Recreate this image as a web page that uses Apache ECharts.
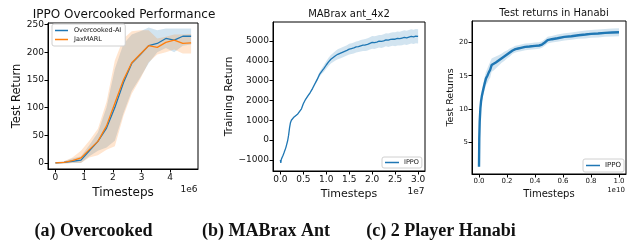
<!DOCTYPE html>
<html>
<head>
<meta charset="utf-8">
<script src="https://cdn.jsdelivr.net/npm/echarts@6/dist/echarts.min.js"></script>
<style>
  html, body { margin: 0; background: #fff; }
  #container { width: 636px; height: 242px; }
</style>
</head>
<body>
<div id="container"></div>
<script>
// ---- (a) Overcooked, x in 1e6 steps ----
var ocX = [0, 0.3, 0.59, 0.89, 1.18, 1.48, 1.78, 2.07, 2.37, 2.66, 2.96, 3.25, 3.55, 3.85, 4.14, 4.44, 4.73];
var ocAI = [0, 1, 3, 5, 22, 39, 63, 100, 145, 180, 196, 212, 216, 225, 222, 229, 229];
var ocAIHi = [1, 3, 8, 12, 32, 55, 100, 170, 215, 232, 238, 245, 240, 243, 243, 243, 243];
var ocAILo = [-1, -1, 0, 0, 12, 22, 28, 40, 90, 130, 155, 180, 200, 208, 200, 212, 214];
var ocJax = [0, 1, 4, 9, 24, 39, 67, 108, 150, 181, 197, 212, 209, 218, 222, 216, 217];
var ocJaxHi = [1, 3, 10, 22, 40, 62, 110, 185, 225, 238, 240, 240, 225, 228, 232, 232, 233];
var ocJaxLo = [-1, -1, 0, 0, 10, 14, 24, 30, 85, 125, 152, 182, 196, 200, 205, 198, 198];
var ocXTicks = [0, 1, 2, 3, 4];
var ocYTicks = [0, 50, 100, 150, 200, 250];

// ---- (b) MABrax ant_4x2, x in 1e7 steps ----
var antX = [0, 0.01, 0.02, 0.04, 0.06, 0.08, 0.1, 0.12, 0.14, 0.16, 0.18, 0.2, 0.22, 0.24, 0.27, 0.3, 0.34, 0.38, 0.42, 0.46,
  0.5, 0.55, 0.6, 0.65, 0.7, 0.75, 0.8, 0.85, 0.9, 0.95, 1.0, 1.05, 1.1, 1.15, 1.2, 1.25, 1.3, 1.35, 1.4, 1.45,
  1.5, 1.55, 1.6, 1.65, 1.7, 1.75, 1.8, 1.85, 1.9, 1.95, 2.0, 2.05, 2.1, 2.15, 2.2, 2.25, 2.3, 2.35, 2.4, 2.45,
  2.5, 2.55, 2.6, 2.65, 2.7, 2.75, 2.8, 2.85, 2.9, 2.95, 3.0];
var antY = [-1000, -1150, -980, -870, -760, -640, -560, -380, -200, -20, 250, 620, 880, 1000, 1100, 1170, 1240, 1320, 1450, 1580,
  1830, 2060, 2230, 2400, 2600, 2830, 3050, 3300, 3470, 3620, 3790, 3950, 4080, 4170, 4260, 4330, 4380, 4430, 4480, 4530,
  4590, 4620, 4650, 4700, 4720, 4760, 4790, 4800, 4830, 4880, 4930, 4920, 4950, 4990, 4980, 5010, 5060, 5040, 5080, 5100,
  5090, 5130, 5120, 5150, 5180, 5160, 5200, 5230, 5210, 5250, 5230];
var antHi = [-980, -1120, -950, -840, -730, -610, -530, -350, -170, 10, 280, 650, 910, 1030, 1130, 1200, 1270, 1350, 1480, 1610,
  1870, 2100, 2280, 2460, 2670, 2910, 3150, 3420, 3610, 3790, 3980, 4160, 4300, 4400, 4500, 4580, 4640, 4690, 4740, 4790,
  4860, 4890, 4930, 4980, 5000, 5050, 5080, 5100, 5140, 5190, 5250, 5240, 5270, 5310, 5310, 5340, 5390, 5380, 5420, 5440,
  5440, 5480, 5470, 5510, 5540, 5520, 5560, 5590, 5570, 5610, 5590];
var antLo = [-1020, -1180, -1010, -900, -790, -670, -590, -410, -230, -50, 220, 590, 850, 970, 1070, 1140, 1210, 1290, 1420, 1550,
  1790, 2020, 2180, 2340, 2530, 2750, 2950, 3180, 3330, 3450, 3600, 3740, 3860, 3940, 4020, 4080, 4120, 4170, 4220, 4270,
  4320, 4350, 4370, 4420, 4440, 4470, 4500, 4500, 4520, 4570, 4610, 4600, 4630, 4670, 4650, 4680, 4730, 4700, 4740, 4760,
  4740, 4780, 4770, 4790, 4820, 4800, 4840, 4870, 4850, 4890, 4870];
var antXTicks = [0, 0.5, 1, 1.5, 2, 2.5, 3];
var antYTicks = [-1000, 0, 1000, 2000, 3000, 4000, 5000];

// ---- (c) 2 Player Hanabi, x in 1e10 steps ----
var hanX = [0, 0.002, 0.005, 0.01, 0.015, 0.02, 0.03, 0.04, 0.05, 0.06, 0.07, 0.08, 0.09, 0.1, 0.12, 0.14, 0.16, 0.18, 0.2,
  0.22, 0.24, 0.26, 0.28, 0.3, 0.33, 0.36, 0.4, 0.43, 0.45, 0.47, 0.49, 0.52, 0.56, 0.61, 0.66, 0.71, 0.76, 0.8, 0.85, 0.9, 0.95, 1.0];
var hanY = [1.3, 5.6, 8.1, 10.1, 11.2, 11.9, 12.9, 13.8, 14.6, 15.0, 15.5, 15.9, 16.6, 16.7, 17.0, 17.3, 17.6, 17.9, 18.2,
  18.5, 18.8, 19.0, 19.1, 19.2, 19.35, 19.4, 19.5, 19.55, 19.7, 20.0, 20.35, 20.5, 20.65, 20.85, 20.95, 21.1, 21.2, 21.3, 21.35, 21.45, 21.5, 21.55];
var hanHi = [1.5, 6.2, 8.8, 10.8, 12.0, 12.7, 13.8, 14.8, 15.6, 16.1, 16.6, 17.1, 17.6, 17.7, 17.9, 18.1, 18.3, 18.6, 18.8,
  19.1, 19.3, 19.5, 19.6, 19.7, 19.85, 19.9, 20.0, 20.05, 20.2, 20.5, 20.85, 21.0, 21.2, 21.4, 21.5, 21.65, 21.8, 21.9, 21.95, 22.05, 22.1, 22.15];
var hanLo = [1.1, 5.0, 7.4, 9.4, 10.4, 11.1, 12.0, 12.8, 13.6, 13.9, 14.4, 14.7, 15.6, 15.7, 16.1, 16.5, 16.9, 17.2, 17.6,
  17.9, 18.3, 18.5, 18.6, 18.7, 18.85, 18.9, 19.0, 19.05, 19.2, 19.5, 19.85, 20.0, 20.1, 20.3, 20.4, 20.55, 20.6, 20.7, 20.75, 20.85, 20.9, 20.95];
var hanXTicks = [0, 0.2, 0.4, 0.6, 0.8, 1.0];
var hanYTicks = [5, 10, 15, 20];

var BLUE = '#1f77b4', ORANGE = '#ff7f0e';
var FONT = 'DejaVu Sans';

function zip(xs, ys) {
  var out = [];
  for (var i = 0; i < xs.length; i++) out.push([xs[i], ys[i]]);
  return out;
}

// shaded band between lo and hi, drawn through the axis scale
function band(xs, lo, hi, fill, idx) {
  return {
    type: 'custom', xAxisIndex: idx, yAxisIndex: idx, silent: true, z: 1,
    data: [[xs[0], lo[0]]],
    renderItem: function (params, api) {
      var pts = [], i;
      for (i = 0; i < xs.length; i++) pts.push(api.coord([xs[i], hi[i]]));
      for (i = xs.length - 1; i >= 0; i--) pts.push(api.coord([xs[i], lo[i]]));
      return { type: 'polygon', shape: { points: pts }, style: { fill: fill } };
    }
  };
}

function line(name, xs, ys, color, idx, width) {
  return {
    name: name, type: 'line', xAxisIndex: idx, yAxisIndex: idx, z: 3,
    data: zip(xs, ys), showSymbol: false, symbol: 'none',
    lineStyle: { color: color, width: width || 1.3 }, itemStyle: { color: color },
    animation: false
  };
}

function xAxis(idx, min, max, ticks, name, gap, size, nsize, fmt) {
  return {
    type: 'value', gridIndex: idx, min: min, max: max,
    name: name, nameLocation: 'middle', nameGap: gap,
    nameTextStyle: { fontFamily: FONT, fontSize: nsize, color: '#111' },
    axisLine: { show: true, onZero: false, lineStyle: { color: '#000', width: 1 } },
    axisTick: { show: true, length: 3.5, customValues: ticks, lineStyle: { color: '#000' } },
    axisLabel: { customValues: ticks, fontFamily: FONT, fontSize: size, color: '#111', margin: 4, formatter: fmt },
    splitLine: { show: false }
  };
}

function yAxis(idx, min, max, ticks, name, gap, size, nsize, fmt) {
  return {
    type: 'value', gridIndex: idx, min: min, max: max,
    name: name, nameLocation: 'middle', nameGap: gap,
    nameTextStyle: { fontFamily: FONT, fontSize: nsize, color: '#111' },
    axisLine: { show: true, onZero: false, lineStyle: { color: '#000', width: 1 } },
    axisTick: { show: true, length: 3.5, customValues: ticks, lineStyle: { color: '#000' } },
    axisLabel: { customValues: ticks, fontFamily: FONT, fontSize: size, color: '#111', margin: 4, formatter: fmt },
    splitLine: { show: false }
  };
}

function dec1(v) { return v.toFixed(1); }
function minus(v) { return v < 0 ? '\u2212' + Math.abs(v) : String(v); }

function text(str, x, y, size, opts) {
  opts = opts || {};
  return {
    type: 'text', x: x, y: y, z: 10,
    style: {
      text: str, fill: '#111', align: opts.align || 'center', verticalAlign: 'middle',
      fontFamily: opts.family || FONT, fontSize: size, fontWeight: opts.weight || 'normal'
    }
  };
}

var legendBase = {
  orient: 'vertical', backgroundColor: '#fff', borderColor: '#d0d0d0', borderWidth: 1, borderRadius: 2,
  icon: 'rect', itemHeight: 1.5, itemGap: 2, selectedMode: false
};

var option = {
  animation: false,
  grid: [
    { left: 48, top: 23, width: 150, height: 146, show: true, borderColor: '#000', borderWidth: 1, backgroundColor: 'transparent' },
    { left: 273, top: 22, width: 152, height: 149, show: true, borderColor: '#000', borderWidth: 1, backgroundColor: 'transparent' },
    { left: 472, top: 21, width: 154, height: 153, show: true, borderColor: '#000', borderWidth: 1, backgroundColor: 'transparent' }
  ],
  xAxis: [
    xAxis(0, -0.26, 4.97, ocXTicks, 'Timesteps', 15, 9, 12),
    xAxis(1, -0.16, 3.15, antXTicks, 'Timesteps', 15, 9, 11, dec1),
    xAxis(2, -0.05, 1.05, hanXTicks, 'Timesteps', 12, 7, 10, dec1)
  ],
  yAxis: [
    yAxis(0, -11, 253, ocYTicks, 'Test Return', 22, 9, 11.5),
    yAxis(1, -1560, 5960, antYTicks, 'Training Return', 34, 9, 10.5, minus),
    yAxis(2, 0.2, 23.24, hanYTicks, 'Test Returns', 16, 7, 9.5)
  ],
  legend: [
    Object.assign({}, legendBase, {
      left: 52, top: 24, padding: [3, 4, 3, 3], itemWidth: 13,
      data: ['Overcooked-AI', 'JaxMARL'],
      textStyle: { fontFamily: FONT, fontSize: 6.5, color: '#111', padding: [0, 0, 0, 1] }
    }),
    Object.assign({}, legendBase, {
      left: 382, top: 157, padding: [2, 3, 2, 3], itemWidth: 14,
      data: [{ name: 'IPPO' }],
      textStyle: { fontFamily: FONT, fontSize: 6.5, color: '#111' }
    }),
    Object.assign({}, legendBase, {
      left: 583, top: 159, padding: [3, 3, 3, 3], itemWidth: 14,
      data: [{ name: 'IPPO' }],
      textStyle: { fontFamily: FONT, fontSize: 7, color: '#111' }
    })
  ],
  graphic: [
    text('IPPO Overcooked Performance', 124, 14.5, 12),
    text('MABrax ant_4x2', 349, 14, 10),
    text('Test returns in Hanabi', 554, 13.5, 10),
    text('1e6', 189, 190, 9),
    text('1e7', 416, 192, 9),
    text('1e10', 616, 190.5, 7),
    text('(a) Overcooked', 93.5, 231, 18, { family: 'Liberation Serif', weight: 'bold' }),
    text('(b) MABrax Ant', 266, 231, 18, { family: 'Liberation Serif', weight: 'bold' }),
    text('(c) 2 Player Hanabi', 441, 231, 18, { family: 'Liberation Serif', weight: 'bold' })
  ],
  series: [
    band(ocX, ocAILo, ocAIHi, 'rgba(31,119,180,0.2)', 0),
    band(ocX, ocJaxLo, ocJaxHi, 'rgba(255,127,14,0.2)', 0),
    line('Overcooked-AI', ocX, ocAI, BLUE, 0),
    line('JaxMARL', ocX, ocJax, ORANGE, 0),
    band(antX, antLo, antHi, 'rgba(31,119,180,0.2)', 1),
    line('IPPO', antX, antY, BLUE, 1),
    band(hanX, hanLo, hanHi, 'rgba(31,119,180,0.2)', 2),
    line('IPPO', hanX, hanY, BLUE, 2, 2.4)
  ]
};

var myChart = echarts.init(document.getElementById('container'), null, { renderer: 'canvas' });
myChart.setOption(option);
</script>
</body>
</html>
